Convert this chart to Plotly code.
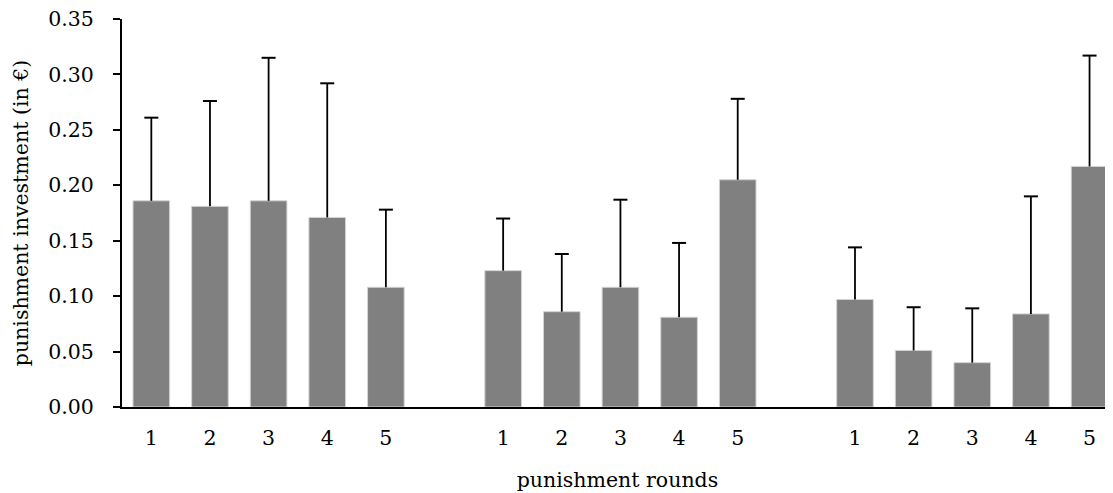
import plotly.graph_objects as go

rounds = ["1", "2", "3", "4", "5"]
group1_mean = [0.186, 0.181, 0.186, 0.171, 0.108]
group1_upper = [0.261, 0.276, 0.315, 0.292, 0.178]
group2_mean = [0.123, 0.086, 0.108, 0.081, 0.205]
group2_upper = [0.170, 0.138, 0.187, 0.148, 0.278]
group3_mean = [0.097, 0.051, 0.040, 0.084, 0.217]
group3_upper = [0.144, 0.090, 0.089, 0.190, 0.317]

y_ticks = [0.00, 0.05, 0.10, 0.15, 0.20, 0.25, 0.30, 0.35]

groups = [(group1_mean, group1_upper), (group2_mean, group2_upper), (group3_mean, group3_upper)]

xs, ys, ups, errs, labels = [], [], [], [], []
for gi, (means, uppers) in enumerate(groups):
    for ri, (m, u) in enumerate(zip(means, uppers)):
        xs.append(gi * 6 + ri)
        ys.append(m)
        ups.append(u)
        errs.append(u - m)
        labels.append(rounds[ri])

FONT = "DejaVu Serif"
FS = 20.5

fig = go.Figure()
fig.add_trace(
    go.Bar(
        x=xs, y=ys,
        width=0.625,
        marker=dict(color="#808080", line=dict(color="#d4d4d4", width=1)),
        error_y=dict(type="data", symmetric=False, array=errs, arrayminus=[0] * len(errs),
                     color="black", thickness=1.8, width=0),
    )
)
fig.add_trace(
    go.Scatter(
        x=xs, y=ups, mode="markers",
        marker=dict(symbol="line-ew", size=10, line=dict(color="black", width=2)),
        hoverinfo="skip",
    )
)

fig.update_layout(
    width=1105, height=485,
    margin=dict(l=114, r=0, t=11, b=86),
    plot_bgcolor="white", paper_bgcolor="white",
    font=dict(family=FONT, size=FS, color="black"),
    showlegend=False,
    xaxis=dict(
        range=[-0.5, 16.4],
        tickmode="array", tickvals=xs, ticktext=labels,
        showline=True, linecolor="black", linewidth=2,
        ticks="", showgrid=False, zeroline=False,
        ticklabelstandoff=11, automargin=False, ticklabeloverflow="allow",
        title=dict(text="punishment rounds", standoff=24, font=dict(size=FS)),
    ),
    yaxis=dict(
        range=[0, 0.35],
        tickmode="array", tickvals=y_ticks, ticktext=[f"{v:.2f}" for v in y_ticks],
        showline=True, linecolor="black", linewidth=2,
        ticks="outside", ticklen=7, tickwidth=1.5, tickcolor="black",
        showgrid=False, zeroline=False,
        ticklabelstandoff=15, automargin=False, ticklabeloverflow="allow",
        title=dict(text="punishment investment (in €)", standoff=14, font=dict(size=FS)),
    ),
)

fig.write_html("out.html")
